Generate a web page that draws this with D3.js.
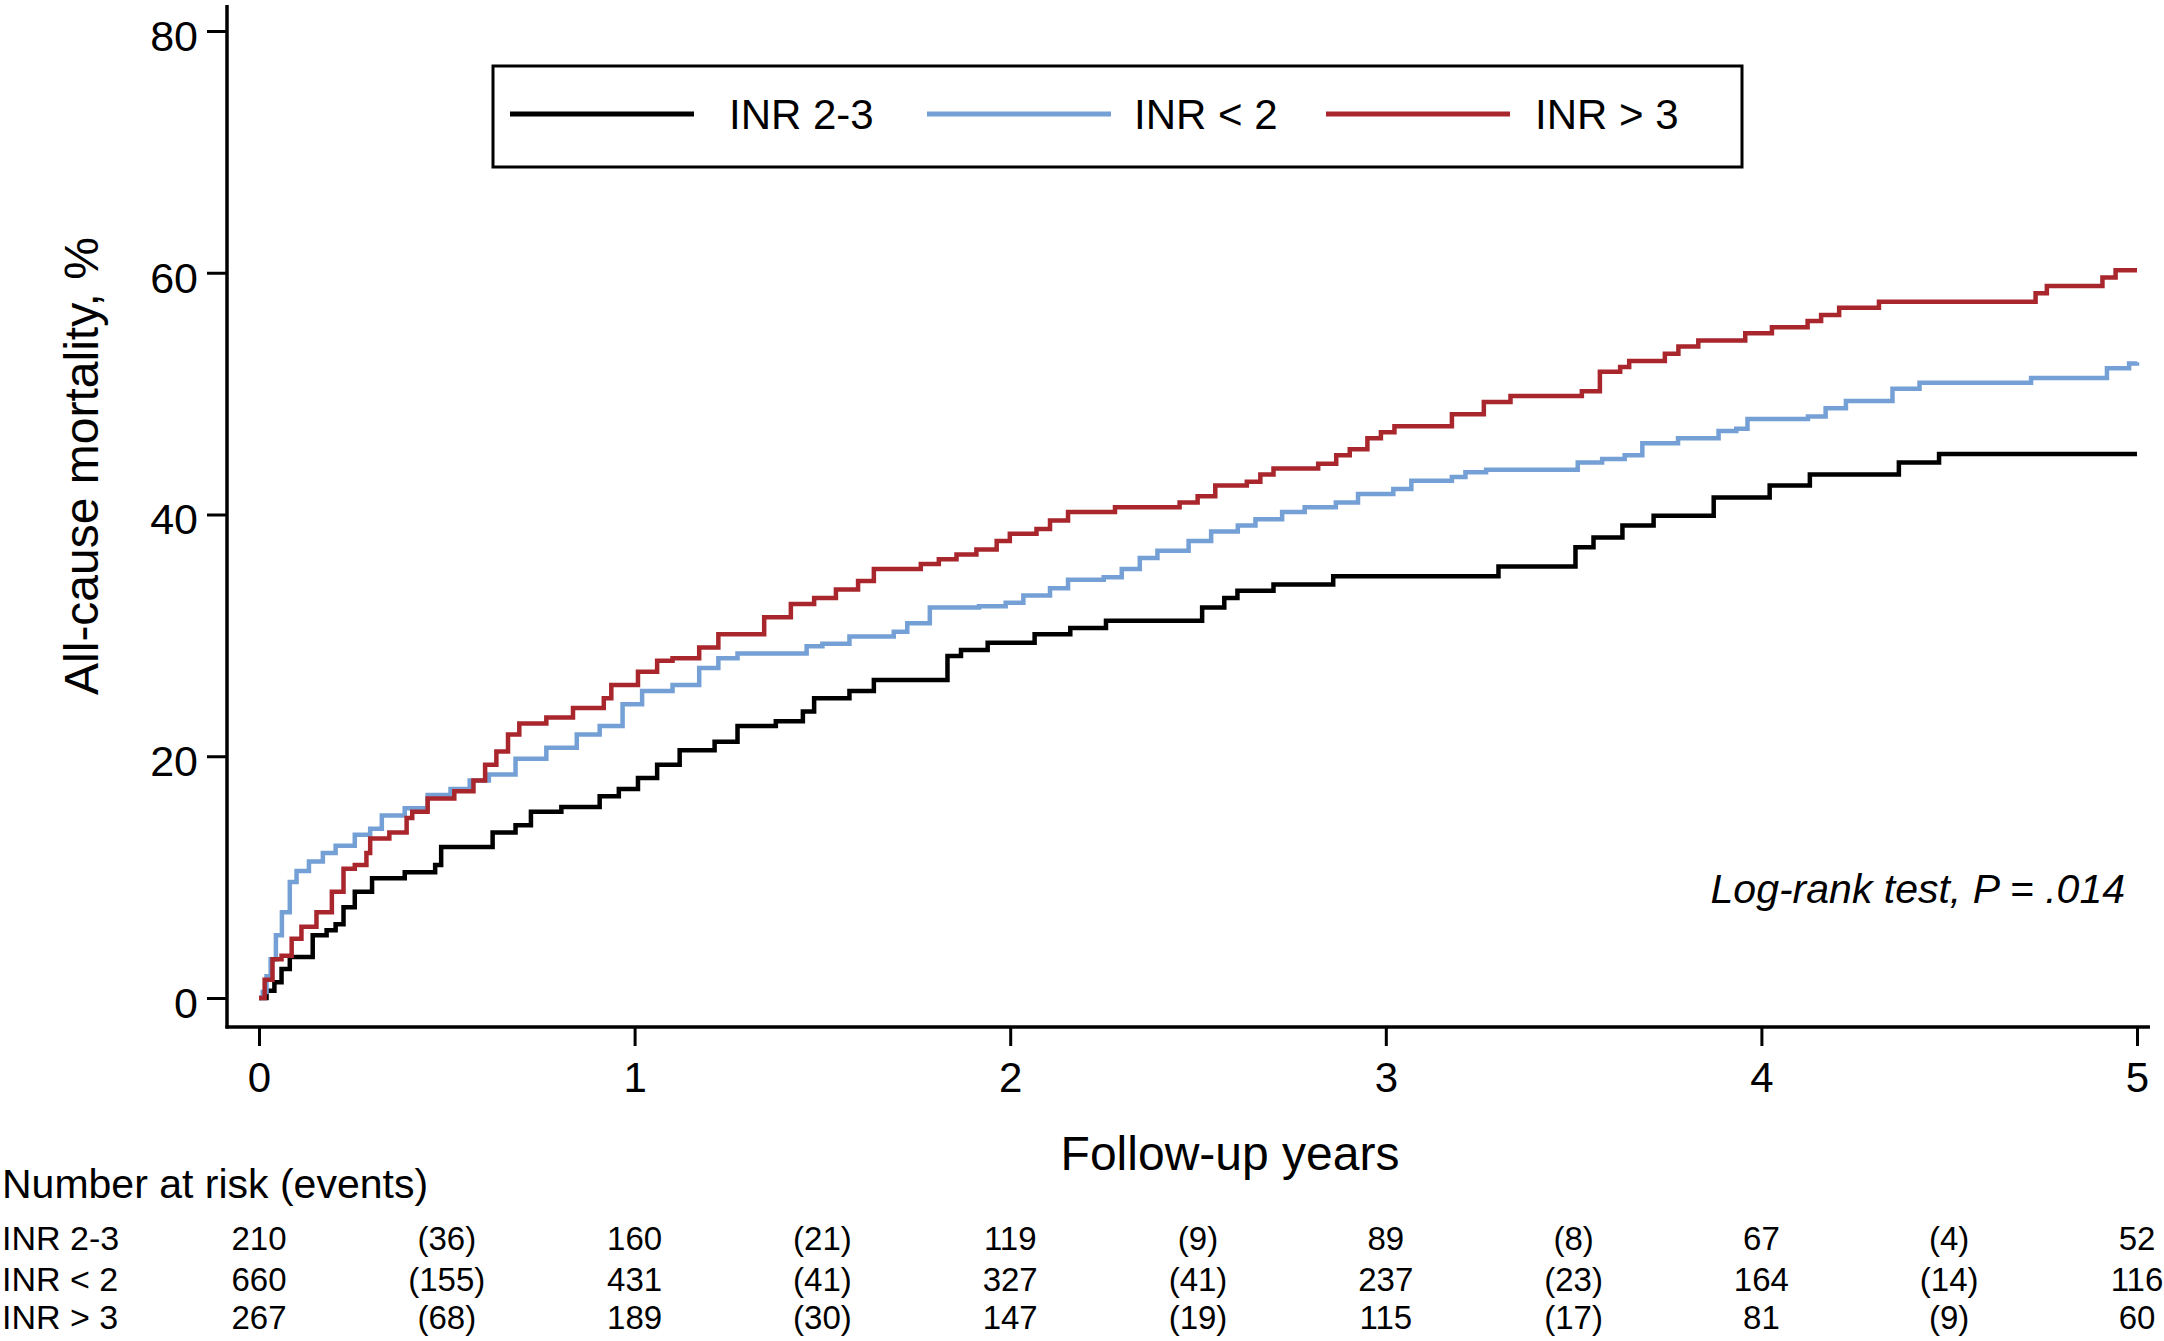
<!DOCTYPE html>
<html>
<head>
<meta charset="utf-8">
<script src="https://cdn.jsdelivr.net/npm/d3@7/dist/d3.min.js"></script>
<style>
  html, body { margin: 0; padding: 0; background: #fff; }
  svg { display: block; }
  text { font-family: "Liberation Sans", Arial, Helvetica, sans-serif; fill: #000; }
</style>
</head>
<body>
<svg id="chart" width="2164" height="1341"></svg>
<script>
// ---------- DATA ----------
const seriesNames = ["INR 2-3", "INR < 2", "INR > 3"];
const seriesColors = ["#000000", "#74a0d6", "#a8262c"];

// Kaplan-Meier cumulative mortality (%), [years, %]
const inr23 = [[0,0],[0.02,0.6],[0.041,1.3],[0.06,2.4],[0.082,3.4],[0.143,5.2],[0.18,5.6],[0.204,6.1],[0.225,7.5],[0.255,8.8],[0.301,9.9],[0.388,10.4],[0.469,11],[0.485,12.5],[0.622,13.7],[0.683,14.3],[0.724,15.4],[0.805,15.8],[0.907,16.7],[0.958,17.3],[1.009,18.2],[1.06,19.3],[1.12,20.5],[1.213,21.2],[1.274,22.5],[1.376,22.9],[1.448,23.7],[1.478,24.8],[1.572,25.4],[1.637,26.3],[1.833,28.3],[1.869,28.8],[1.94,29.4],[2.065,30.1],[2.16,30.6],[2.255,31.2],[2.511,32.3],[2.57,33.1],[2.605,33.7],[2.701,34.2],[2.86,34.9],[3.30,35.7],[3.505,37.3],[3.553,38.1],[3.63,39.1],[3.713,39.9],[3.873,41.4],[4.022,42.4],[4.129,43.3],[4.366,44.3],[4.473,45.0],[5.0,45.0]];

const inrLow = [[0,0],[0.01,0.5],[0.02,1.8],[0.031,3.2],[0.045,5.2],[0.061,7.1],[0.082,9.6],[0.1,10.5],[0.133,11.3],[0.17,12],[0.204,12.6],[0.255,13.5],[0.296,14],[0.327,15.1],[0.388,15.7],[0.449,16.8],[0.51,17.3],[0.561,18],[0.612,18.5],[0.683,19.8],[0.765,20.7],[0.846,21.8],[0.907,22.5],[0.968,24.3],[1.02,25.4],[1.101,25.9],[1.172,27.3],[1.223,28.1],[1.274,28.5],[1.458,29.1],[1.50,29.3],[1.572,29.9],[1.69,30.3],[1.726,31],[1.786,32.3],[1.917,32.4],[1.988,32.7],[2.035,33.3],[2.106,33.9],[2.154,34.6],[2.249,34.8],[2.297,35.5],[2.345,36.4],[2.392,37],[2.475,37.8],[2.535,38.6],[2.606,39.1],[2.653,39.6],[2.724,40.2],[2.784,40.6],[2.867,41],[2.926,41.7],[3.02,42.1],[3.068,42.8],[3.176,43.1],[3.212,43.5],[3.267,43.7],[3.511,44.3],[3.576,44.6],[3.636,44.9],[3.683,45.9],[3.778,46.3],[3.886,46.9],[3.933,47.1],[3.963,47.9],[4.124,48.1],[4.171,48.8],[4.225,49.4],[4.349,50.4],[4.421,50.9],[4.718,51.3],[4.92,52.1],[4.979,52.5],[5.0,52.6]];

const inrHigh = [[0,0],[0.015,1.5],[0.036,3.2],[0.06,3.5],[0.087,4.9],[0.113,5.9],[0.153,7.1],[0.194,8.8],[0.225,10.7],[0.255,11],[0.286,12],[0.296,13.2],[0.347,13.7],[0.393,14.9],[0.408,15.4],[0.449,16.5],[0.52,17.1],[0.571,18],[0.602,19.3],[0.632,20.4],[0.663,21.8],[0.693,22.7],[0.765,23.2],[0.836,24],[0.918,24.8],[0.938,25.9],[1.009,27],[1.06,27.9],[1.101,28.1],[1.172,29],[1.223,30.1],[1.345,31.5],[1.416,32.6],[1.478,33.1],[1.536,33.8],[1.595,34.5],[1.637,35.5],[1.762,35.9],[1.81,36.3],[1.857,36.7],[1.91,37.1],[1.964,37.8],[1.999,38.4],[2.07,38.8],[2.106,39.5],[2.154,40.2],[2.279,40.6],[2.451,41],[2.499,41.5],[2.546,42.4],[2.63,42.7],[2.666,43.3],[2.701,43.8],[2.82,44.2],[2.868,44.9],[2.904,45.4],[2.951,46.3],[2.987,46.8],[3.023,47.3],[3.176,48.3],[3.261,49.3],[3.332,49.8],[3.522,50.2],[3.57,51.8],[3.624,52.2],[3.648,52.7],[3.743,53.3],[3.779,53.9],[3.832,54.4],[3.957,55.0],[4.028,55.5],[4.123,56.0],[4.159,56.5],[4.207,57.1],[4.313,57.6],[4.73,58.3],[4.76,58.9],[4.908,59.6],[4.943,60.2],[5.0,60.2]];

const xTicks = [0, 1, 2, 3, 4, 5];
const yTicks = [0, 20, 40, 60, 80];

// Number at risk (events)
const riskTimes = [0, 0.5, 1, 1.5, 2, 2.5, 3, 3.5, 4, 4.5, 5];
const atRisk23 = [210, 160, 119, 89, 67, 52];
const events23 = [36, 21, 9, 8, 4];
const atRiskLow = [660, 431, 327, 237, 164, 116];
const eventsLow = [155, 41, 41, 23, 14];
const atRiskHigh = [267, 189, 147, 115, 81, 60];
const eventsHigh = [68, 30, 19, 17, 9];

const pText = "Log-rank test, P = .014";

// ---------- CHART ----------
const svg = d3.select("#chart");
const x = d3.scaleLinear().domain([0, 5]).range([259, 2137]);
const y = d3.scaleLinear().domain([0, 80]).range([998, 31]);
const axisX = 227, axisY = 1027;

// curves
const line = d3.line().x(d => x(d[0])).y(d => y(d[1])).curve(d3.curveStepAfter);
const allSeries = [inr23, inrLow, inrHigh];
[0, 1, 2].forEach(i => {
  svg.append("path")
    .datum(allSeries[i])
    .attr("d", line)
    .attr("fill", "none")
    .attr("stroke", seriesColors[i])
    .attr("stroke-width", 4.5)
    .attr("stroke-linejoin", "miter");
});

// y axis
const yAxis = d3.axisLeft(y).tickValues(yTicks).tickSize(20).tickPadding(9).tickFormat(d3.format("d"));
const gy = svg.append("g").attr("transform", `translate(${axisX},0)`).call(yAxis);
gy.select(".domain").remove();
gy.selectAll(".tick line").attr("stroke", "#000").attr("stroke-width", 3);
gy.selectAll(".tick text").attr("font-size", 43).attr("dy", "0.45em")
  .style("font-family", '"Liberation Sans", Arial, sans-serif');
svg.append("line").attr("x1", axisX).attr("x2", axisX).attr("y1", 5).attr("y2", axisY + 1.5)
  .attr("stroke", "#000").attr("stroke-width", 3.5);

// x axis
const xAxis = d3.axisBottom(x).tickValues(xTicks).tickSize(19).tickPadding(16).tickFormat(d3.format("d"));
const gx = svg.append("g").attr("transform", `translate(0,${axisY})`).call(xAxis);
gx.select(".domain").remove();
gx.selectAll(".tick line").attr("stroke", "#000").attr("stroke-width", 3);
gx.selectAll(".tick text").attr("font-size", 42)
  .style("font-family", '"Liberation Sans", Arial, sans-serif');
svg.append("line").attr("x1", axisX - 1.5).attr("x2", 2150).attr("y1", axisY).attr("y2", axisY)
  .attr("stroke", "#000").attr("stroke-width", 3.5);

// axis titles
svg.append("text").attr("transform", "translate(98,466) rotate(-90)")
  .attr("text-anchor", "middle").attr("font-size", 48).text("All-cause mortality, %");
svg.append("text").attr("x", 1230).attr("y", 1170)
  .attr("text-anchor", "middle").attr("font-size", 48).text("Follow-up years");

// legend
svg.append("rect").attr("x", 493).attr("y", 66).attr("width", 1249).attr("height", 101)
  .attr("fill", "none").attr("stroke", "#000").attr("stroke-width", 3);
const legendLineX = [510, 927, 1326];
const legendTextX = [729, 1134, 1535];
seriesNames.forEach((n, i) => {
  svg.append("line").attr("x1", legendLineX[i]).attr("x2", legendLineX[i] + 184)
    .attr("y1", 114).attr("y2", 114)
    .attr("stroke", seriesColors[i]).attr("stroke-width", 5);
  svg.append("text").attr("x", legendTextX[i]).attr("y", 129)
    .attr("font-size", 42).text(n);
});

// p-value
svg.append("text").attr("x", 2125).attr("y", 903).attr("text-anchor", "end")
  .attr("font-size", 41).attr("font-style", "italic").text(pText);

// risk table
svg.append("text").attr("x", 2).attr("y", 1198).attr("font-size", 41).text("Number at risk (events)");
const rowY = [1250, 1291, 1329];
const rows = [[atRisk23, events23], [atRiskLow, eventsLow], [atRiskHigh, eventsHigh]];
rows.forEach((r, i) => {
  svg.append("text").attr("x", 2).attr("y", rowY[i]).attr("font-size", 34).text(seriesNames[i]);
  const cells = riskTimes.map((t, j) => ({
    t,
    label: (j % 2 === 0) ? String(r[0][j / 2]) : "(" + r[1][(j - 1) / 2] + ")"
  }));
  svg.selectAll(null).data(cells).enter().append("text")
    .attr("x", d => x(d.t)).attr("y", rowY[i])
    .attr("text-anchor", "middle").attr("font-size", 33)
    .text(d => d.label);
});
</script>
</body>
</html>
